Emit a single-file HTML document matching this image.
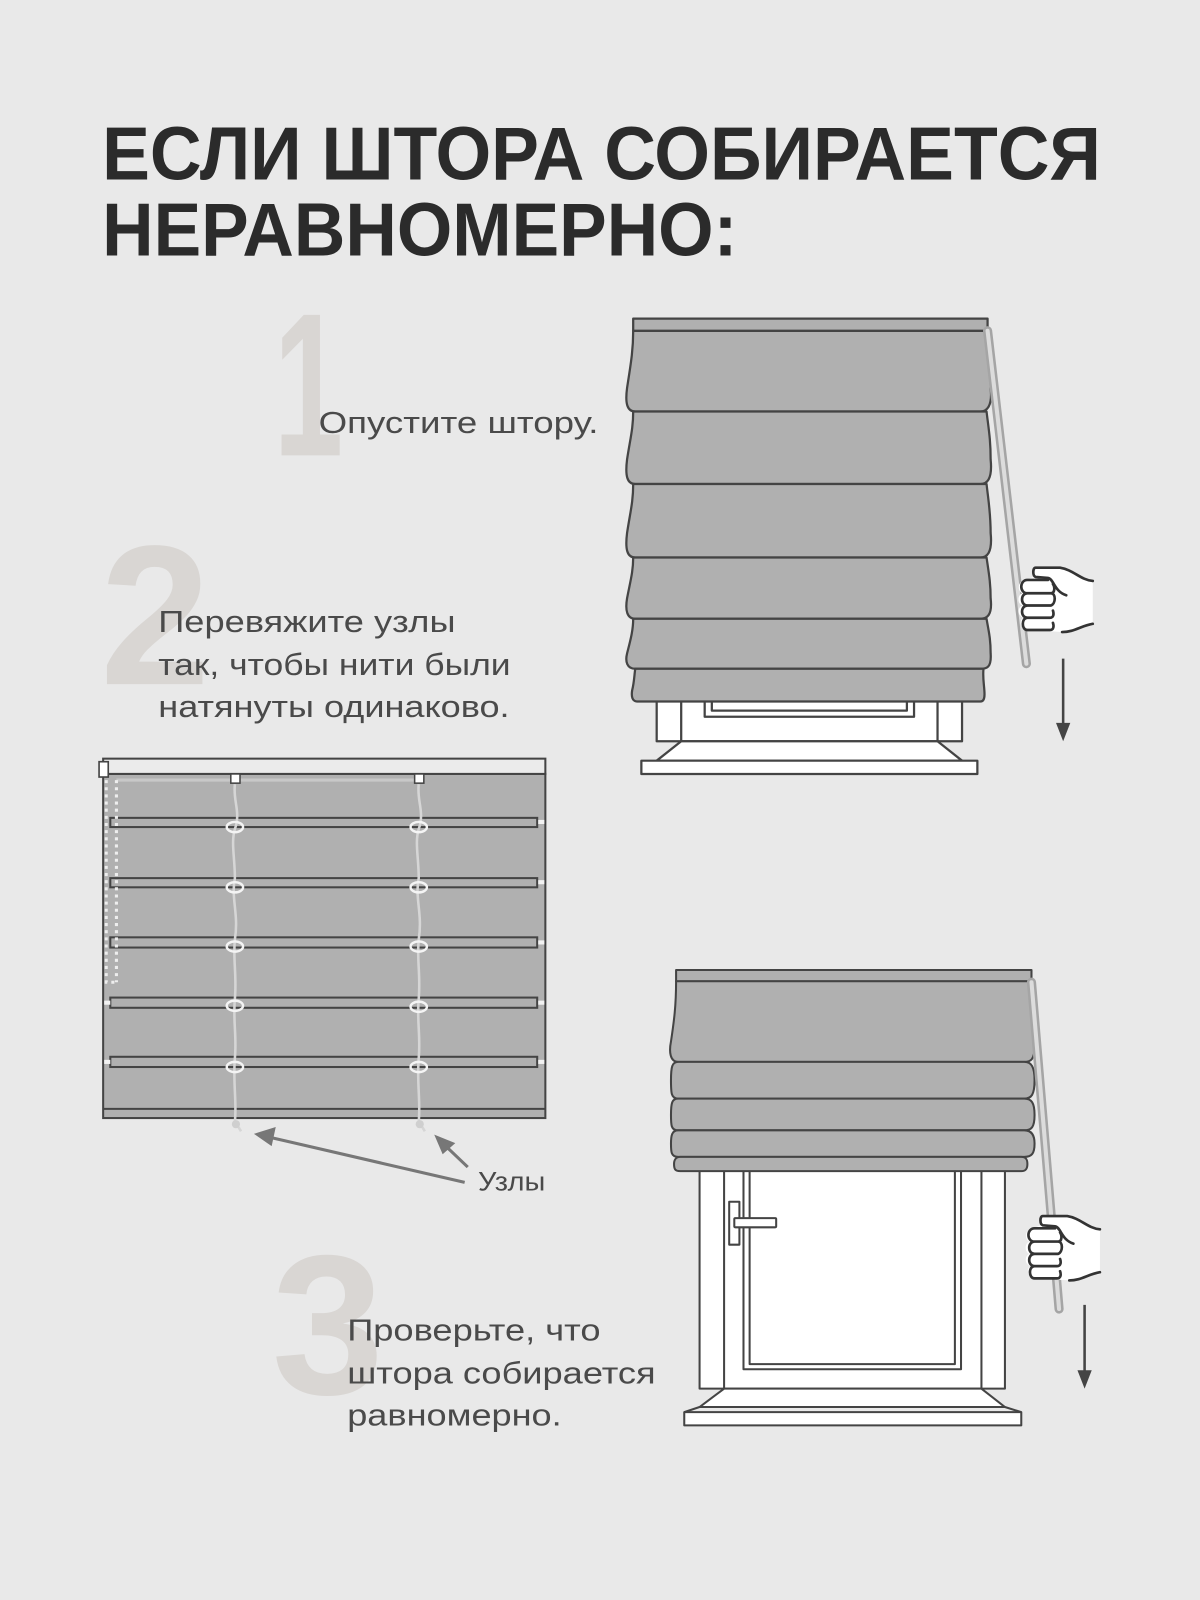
<!DOCTYPE html>
<html><head><meta charset="utf-8"><style>
html,body{margin:0;padding:0;background:#e9e9e9;}
svg{display:block;}
</style></head><body>
<svg width="1200" height="1600" viewBox="0 0 1175 1567" preserveAspectRatio="none" xmlns="http://www.w3.org/2000/svg">
<defs>
<g id="hand">
  <path d="M16,12 L18,3 L42,3 C55,5 62,15 74,16 L74,60 C62,60 55,66 44,66 L10,64 C2,62 2,54 6,52 C0,50 0,42 5,40 C0,38 0,30 5,28 C0,26 0,16 8,15 Z" fill="#fff"/>
  <path d="M74,16 C62,15 55,5 42,3 L18,3 C15,3 15,11 18,12 L30,13 C36,14 36,26 48,30" fill="none" stroke="#333" stroke-width="2.6" stroke-linecap="round"/>
  <path d="M74,58 C62,60 56,66 44,66" fill="none" stroke="#333" stroke-width="2.6" stroke-linecap="round"/>
  <path d="M30,15 L10,15 C2,15 2,28 10,28 L33,28 C38,28 38,38 33,40 L10,40 C3,40 3,52 10,52 L32,52 C36,52 36,48 35,45 M10,28 C3,28 3,40 10,40 M10,52 C4,52 4,64 10,64 L32,64 C36,64 36,60 35,57 M33,28 C37,28 37,22 35,19" fill="none" stroke="#333" stroke-width="2.6" stroke-linecap="round"/>
</g>
</defs>
<rect width="1175" height="1567" fill="#e9e9e9"/>

<g font-family="'Liberation Sans','DejaVu Sans',sans-serif" font-weight="bold" fill="#2b2b2b">
<text x="100" y="176" font-size="74" textLength="978" lengthAdjust="spacingAndGlyphs">ЕСЛИ ШТОРА СОБИРАЕТСЯ</text>
<text x="100" y="250" font-size="74" textLength="622" lengthAdjust="spacingAndGlyphs">НЕРАВНОМЕРНО:</text>
</g>

<g font-family="'Liberation Sans',sans-serif" font-weight="bold" fill="#d9d6d3">
<text x="268" y="446" font-size="200" textLength="68" lengthAdjust="spacingAndGlyphs">1</text>
<text x="98" y="670" font-size="195" textLength="108" lengthAdjust="spacingAndGlyphs">2</text>
<text x="266" y="1365" font-size="195" textLength="110" lengthAdjust="spacingAndGlyphs">3</text>
</g>

<g font-family="'Liberation Sans','DejaVu Sans',sans-serif" fill="#4a4a4a" font-size="30">
<text x="312" y="424" textLength="274" lengthAdjust="spacingAndGlyphs">Опустите штору.</text>
<text x="155" y="619" textLength="291" lengthAdjust="spacingAndGlyphs">Перевяжите узлы</text>
<text x="155" y="661" textLength="345" lengthAdjust="spacingAndGlyphs">так, чтобы нити были</text>
<text x="155" y="702" textLength="344" lengthAdjust="spacingAndGlyphs">натянуты одинаково.</text>
<text x="340" y="1313" textLength="248" lengthAdjust="spacingAndGlyphs">Проверьте, что</text>
<text x="340" y="1355" textLength="302" lengthAdjust="spacingAndGlyphs">штора собирается</text>
<text x="340" y="1396" textLength="210" lengthAdjust="spacingAndGlyphs">равномерно.</text>
<text x="468" y="1166" font-size="26" textLength="66" lengthAdjust="spacingAndGlyphs">Узлы</text>
</g>

<!-- Figure 1 -->
<g stroke="#444" stroke-width="2.2" stroke-linejoin="round">
  <rect x="643" y="686" width="299" height="40" fill="#fff"/>
  <line x1="667" y1="686" x2="667" y2="726"/>
  <line x1="918" y1="686" x2="918" y2="726"/>
  <rect x="690" y="686" width="205" height="16" fill="#fff"/>
  <rect x="697" y="686" width="191" height="10" fill="#fff"/>
  <path d="M667,726 L918,726 L942,745 L643,745 Z" fill="#fff"/>
  <rect x="628" y="745" width="329" height="13" fill="#fff"/>
  <rect x="620" y="312" width="347" height="12" fill="#b0b0b0"/>
  <path d="M620,324 L967,324 C967,340 970,350 970,380 C972,398 966,403 960,403 L622,403 C614,403 612,395 614,380 C617,360 620,345 620,324 Z" fill="#b0b0b0"/>
  <path d="M620,403 L966,403 C968,420 970,430 970,450 C972,470 966,474 960,474 L622,474 C614,474 612,466 614,450 C617,430 620,420 620,403 Z" fill="#b0b0b0"/>
  <path d="M620,474 L966,474 C968,492 970,502 970,522 C972,542 966,546 960,546 L622,546 C614,546 612,538 614,522 C617,502 620,492 620,474 Z" fill="#b0b0b0"/>
  <path d="M620,546 L966,546 C968,560 970,570 970,586 C972,603 966,606 960,606 L622,606 C614,606 612,598 614,586 C617,570 620,560 620,546 Z" fill="#b0b0b0"/>
  <path d="M620,606 L966,606 C968,618 970,625 970,640 C971,654 966,655 960,655 L622,655 C614,655 612,648 614,640 C617,628 620,618 620,606 Z" fill="#b0b0b0"/>
  <path d="M622,655 L963,655 C962,665 964,672 964,680 C964,686 962,687 960,687 L624,687 C619,687 618,682 619,676 C621,668 621,662 622,655 Z" fill="#b0b0b0"/>
</g>
<path d="M967,324 L1005,650" stroke="#a5a5a5" stroke-width="9" stroke-linecap="round" fill="none"/>
<path d="M967,324 L1005,650" stroke="#dcdcdc" stroke-width="4" stroke-linecap="round" fill="none"/>
<use href="#hand" x="996" y="553"/>
<line x1="1041" y1="645" x2="1041" y2="712" stroke="#444" stroke-width="2.5"/>
<path d="M1034,708 L1048,708 L1041,726 Z" fill="#444"/>

<!-- Figure 2 -->
<g stroke="#444" stroke-width="2">
  <rect x="101" y="743" width="433" height="15" fill="#ebebeb"/>
  <rect x="101" y="758" width="433" height="337" fill="#b0b0b0"/>
  <line x1="101" y1="1086" x2="534" y2="1086"/>
  <rect x="108" y="801" width="418" height="9" fill="#b0b0b0"/>
  <rect x="108" y="860" width="418" height="9" fill="#b0b0b0"/>
  <rect x="108" y="918" width="418" height="10" fill="#b0b0b0"/>
  <rect x="108" y="977" width="418" height="10" fill="#b0b0b0"/>
  <rect x="108" y="1035" width="418" height="10" fill="#b0b0b0"/>
</g>
<g fill="#f2f2f2">
  <rect x="527" y="803" width="6" height="4"/><rect x="527" y="862" width="6" height="4"/><rect x="527" y="921" width="6" height="4"/><rect x="527" y="980" width="6" height="4"/><rect x="527" y="1038" width="6" height="4"/>
  <rect x="102" y="980" width="6" height="4"/><rect x="102" y="1038" width="6" height="4"/>
</g>
<line x1="114" y1="764" x2="410" y2="764" stroke="#c8c8c8" stroke-width="3"/>
<rect x="97" y="746" width="9" height="15" fill="#fff" stroke="#444" stroke-width="1.6"/>
<path d="M104,764 L104,962 L112,962 M114,764 L114,962" stroke="#eee" stroke-width="3" stroke-dasharray="3,4" fill="none"/>
<g fill="none" stroke="#d6d6d6" stroke-width="2.5">
  <path d="M230,768 C228,785 236,795 230,812 C226,825 230,840 230,860 C226,880 234,895 230,920 C228,940 232,955 230,978 C228,1000 232,1015 230,1036 C228,1060 232,1080 230,1098 L236,1108"/>
  <path d="M410,768 C408,785 416,795 410,812 C406,825 410,840 410,860 C406,880 414,895 410,920 C408,940 412,955 410,978 C408,1000 412,1015 410,1036 C408,1060 412,1080 410,1098 L416,1108"/>
</g>
<g fill="none" stroke="#f4f4f4" stroke-width="2.4">
  <ellipse cx="230" cy="810" rx="8" ry="5"/><ellipse cx="410" cy="810" rx="8" ry="5"/>
  <ellipse cx="230" cy="869" rx="8" ry="5"/><ellipse cx="410" cy="869" rx="8" ry="5"/>
  <ellipse cx="230" cy="927" rx="8" ry="5"/><ellipse cx="410" cy="927" rx="8" ry="5"/>
  <ellipse cx="230" cy="985" rx="8" ry="5"/><ellipse cx="410" cy="986" rx="8" ry="5"/>
  <ellipse cx="230" cy="1045" rx="8" ry="5"/><ellipse cx="410" cy="1045" rx="8" ry="5"/>
</g>
<rect x="226" y="758" width="9" height="9" fill="#fff" stroke="#444" stroke-width="1.5"/>
<rect x="406" y="758" width="9" height="9" fill="#fff" stroke="#444" stroke-width="1.5"/>
<circle cx="231" cy="1101" r="4" fill="#cfcfcf"/><circle cx="411" cy="1101" r="4" fill="#cfcfcf"/>
<g stroke="#777" stroke-width="3" fill="#777">
  <line x1="455" y1="1158" x2="265" y2="1114"/>
  <path d="M252,1111 L268,1106 L265,1120 Z"/>
  <line x1="458" y1="1143" x2="437" y2="1123"/>
  <path d="M428,1114 L443,1120 L434,1128 Z"/>
</g>

<!-- Figure 3 -->
<g stroke="#444" stroke-width="2" stroke-linejoin="round">
  <rect x="685" y="1146" width="299" height="214" fill="#fff"/>
  <line x1="709" y1="1146" x2="709" y2="1360"/>
  <line x1="961" y1="1146" x2="961" y2="1360"/>
  <rect x="728" y="1146" width="213" height="195" fill="#fff"/>
  <rect x="734" y="1146" width="201" height="190" fill="#fff"/>
  <path d="M709,1360 L961,1360 L984,1378 L685,1378 Z" fill="#fff"/>
  <rect x="670" y="1383" width="330" height="13" fill="#fff"/>
  <path d="M685,1378 L670,1383 M984,1378 L1000,1383" />
  <rect x="714" y="1177" width="10" height="42" fill="#fff"/>
  <rect x="719" y="1193" width="41" height="9" fill="#fff" rx="1"/>
  <rect x="662" y="950" width="348" height="11" fill="#b0b0b0"/>
  <path d="M662,961 L1009,961 C1010,985 1013,1000 1013,1025 C1013,1038 1009,1040 1003,1040 L664,1040 C656,1040 655,1030 657,1020 C660,1000 662,985 662,961 Z" fill="#b0b0b0"/>
  <path d="M664,1040 L1003,1040 C1010,1040 1013,1045 1013,1058 C1013,1072 1010,1076 1003,1076 L664,1076 C657,1076 657,1070 657,1058 C657,1045 658,1040 664,1040 Z" fill="#b0b0b0"/>
  <path d="M664,1076 L1003,1076 C1010,1076 1013,1080 1013,1092 C1013,1104 1010,1107 1003,1107 L664,1107 C657,1107 657,1102 657,1092 C657,1080 658,1076 664,1076 Z" fill="#b0b0b0"/>
  <path d="M664,1107 L1003,1107 C1010,1107 1013,1112 1013,1120 C1013,1130 1010,1133 1003,1133 L664,1133 C657,1133 657,1128 657,1120 C657,1112 658,1107 664,1107 Z" fill="#b0b0b0"/>
  <path d="M666,1133 L1000,1133 C1005,1133 1006,1136 1006,1140 C1006,1145 1004,1147 1000,1147 L666,1147 C661,1147 660,1145 660,1140 C660,1136 662,1133 666,1133 Z" fill="#b0b0b0"/>
</g>
<path d="M1010,962 L1037,1282" stroke="#a5a5a5" stroke-width="9" stroke-linecap="round" fill="none"/>
<path d="M1010,962 L1037,1282" stroke="#dcdcdc" stroke-width="4" stroke-linecap="round" fill="none"/>
<use href="#hand" x="1003" y="1188"/>
<line x1="1062" y1="1278" x2="1062" y2="1345" stroke="#444" stroke-width="2.5"/>
<path d="M1055,1342 L1069,1342 L1062,1360 Z" fill="#444"/>
</svg>
</body></html>
